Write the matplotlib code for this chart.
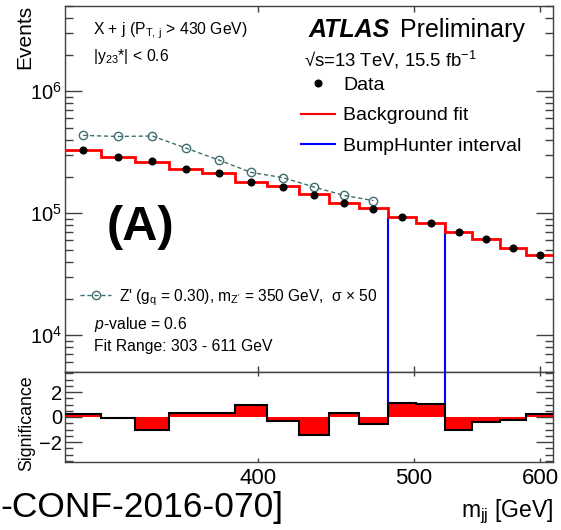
import numpy as np
import matplotlib
matplotlib.use("Agg")
import matplotlib.pyplot as plt
from matplotlib.ticker import NullLocator, MultipleLocator, LogLocator

plt.rcParams['font.family'] = ['Liberation Sans', 'DejaVu Sans']
plt.rcParams['mathtext.fontset'] = 'custom'
plt.rcParams['mathtext.rm'] = 'Liberation Sans'
plt.rcParams['mathtext.it'] = 'Liberation Sans:italic'
plt.rcParams['mathtext.bf'] = 'Liberation Sans:bold'

# m_jj binning [GeV]
edges = np.array([303, 319, 335, 352, 369, 387, 405, 424, 443, 462,
                  482, 502, 523, 544, 566, 588, 611])

data = np.array([3.31e5, 2.89e5, 2.66e5, 2.32e5, 2.14e5, 1.82e5, 1.65e5, 1.42e5,
                 1.21e5, 1.09e5, 9.36e4, 8.35e4, 7.01e4, 6.18e4, 5.21e4, 4.57e4])
fit = np.array([3.31e5, 2.91e5, 2.65e5, 2.31e5, 2.13e5, 1.81e5, 1.66e5, 1.44e5,
                1.21e5, 1.10e5, 9.28e4, 8.30e4, 7.08e4, 6.20e4, 5.21e4, 4.56e4])
signif = np.array([0.28, -0.05, -1.0, 0.35, 0.3, 0.96, -0.29, -1.4,
                   0.3, -0.53, 1.1, 1.02, -1.0, -0.4, -0.27, 0.27])

# Z' signal (x50), only drawn in the first bins
zprime = np.array([4.35e5, 4.26e5, 4.30e5, 3.42e5, 2.73e5, 2.16e5, 1.96e5,
                   1.64e5, 1.40e5, 1.27e5])

# BumpHunter interval [GeV]
bh_lo, bh_hi = 482, 523

centers = 0.5 * (edges[:-1] + edges[1:])

W, H = 561, 530
fig = plt.figure(figsize=(W / 100, H / 100), dpi=100)
ax = fig.add_axes([65 / W, 1 - 372 / H, 488 / W, 366 / H])
ax2 = fig.add_axes([65 / W, 1 - 462 / H, 488 / W, 90 / H], sharex=ax)

zcol = '#3f6e6e'
ymin, ymax = 5e3, 5e6

# main panel
ax.set_xscale('log')
ax.set_yscale('log')
ax.set_xlim(edges[0], edges[-1])
ax.set_ylim(ymin, ymax)

i_lo = np.searchsorted(edges, bh_lo)
i_hi = np.searchsorted(edges, bh_hi)
ax.vlines([bh_lo, bh_hi], ymin, [fit[i_lo], fit[i_hi - 1]], color='#0000ff', lw=1.5, zorder=2)
bkg = ax.stairs(fit, edges, baseline=None, color='#ff0000', lw=2.0, zorder=3)
sig_line, = ax.plot(centers[:len(zprime)], zprime, ls=(0, (3, 2)), lw=1.0, color=zcol,
                    marker='o', ms=6, mfc='none', mec=zcol, mew=1.0, zorder=4)
pts, = ax.plot(centers, data, 'o', color='black', ms=4.8, ls='none', zorder=5)
bh_handle, = ax.plot([], [], color='#0000ff', lw=1.5)
bkg_handle, = ax.plot([], [], color='#ff0000', lw=1.5)

leg1 = ax.legend([pts, bkg_handle, bh_handle], ['Data', 'Background fit', 'BumpHunter interval'],
                 loc='upper left', bbox_to_anchor=(301 / W, 1 - 76 / H), bbox_transform=fig.transFigure,
                 frameon=False, fontsize=14, handlelength=1.75, handletextpad=0.42,
                 labelspacing=0.68, borderpad=0, borderaxespad=0)
ax.add_artist(leg1)
ax.legend([sig_line], [r"Z' (g$_{\mathrm{q}}$ = 0.30), m$_{\mathrm{Z'}}$ = 350 GeV,  σ × 50"],
          loc='upper left', bbox_to_anchor=(80 / W, 1 - 287 / H), bbox_transform=fig.transFigure,
          frameon=False, fontsize=11.2, handlelength=2.0, handletextpad=0.5,
          borderpad=0, borderaxespad=0)

# significance panel
ax2.set_ylim(-3.6, 3.6)
ax2.stairs(signif, edges, baseline=0, fill=True, color='#ff0000', lw=0, zorder=2)
ax2.vlines([bh_lo, bh_hi], [signif[i_lo], signif[i_hi - 1]], 3.6, color='#0000ff', lw=1.5, zorder=3)
ax2.stairs(signif, edges, baseline=None, color='black', lw=1.5, zorder=4)

spine_col = '#404040'
for a in (ax, ax2):
    for s in a.spines.values():
        s.set_color(spine_col)
        s.set_linewidth(1.0)
    a.xaxis.set_minor_locator(NullLocator())
    a.tick_params(which='both', direction='in', top=True, right=True, color=spine_col, width=1.0)
    a.tick_params(axis='y', which='major', length=12, labelsize=14.5, pad=2)
    a.tick_params(axis='y', which='minor', length=6)

ax.yaxis.set_major_locator(LogLocator(base=10))
ax.yaxis.set_minor_locator(LogLocator(base=10, subs=np.arange(2, 10)))
ax.tick_params(axis='x', which='major', length=4.5, labelbottom=False)

ax2.set_xticks([400, 500, 600], ['400', '500', '600'])
ax2.xaxis.set_minor_locator(NullLocator())
ax2.tick_params(axis='x', which='major', length=3, labelsize=16, pad=4)
ax2.yaxis.set_major_locator(MultipleLocator(2))
ax2.yaxis.set_minor_locator(MultipleLocator(0.5))
ax2.set_yticks([-2, 0, 2], ['\u22122', '0', '2'])


def px(x, y):
    return x / W, 1 - y / H


fig.text(*px(25, 5), 'Events', rotation=90, ha='center', va='top', fontsize=15)
fig.text(*px(27, 423), 'Significance', rotation=90, ha='center', va='center', fontsize=12.8)
fig.text(*px(553, 512), r'm$_{\mathrm{jj}}$ [GeV]', ha='right', va='center', fontsize=16.5)
fig.text(*px(0, 508), '-CONF-2016-070]', ha='left', va='center', fontsize=25.5)

fig.text(*px(93, 31), r'X + j (P$_{\mathrm{T,\,j}}$ > 430 GeV)', ha='left', va='center', fontsize=11.3)
fig.text(*px(93, 57), r'|y$_{23}$*| < 0.6', ha='left', va='center', fontsize=11.3)
fig.text(*px(309, 30), 'ATLAS', ha='left', va='center', fontsize=18, fontweight='bold', style='italic')
fig.text(*px(400, 30), 'Preliminary', ha='left', va='center', fontsize=18)
fig.text(*px(304, 60), r'√s=13 TeV, 15.5 fb$^{-1}$', ha='left', va='center', fontsize=13.3)

fig.text(*px(94, 324), r'$p$-value = 0.6', ha='left', va='center', fontsize=11.3)
fig.text(*px(94, 347), 'Fit Range: 303 - 611 GeV', ha='left', va='center', fontsize=11.3)
fig.text(*px(107, 227), '(A)', ha='left', va='center', fontsize=35, fontweight='bold')

fig.savefig('out.png', dpi=100)
